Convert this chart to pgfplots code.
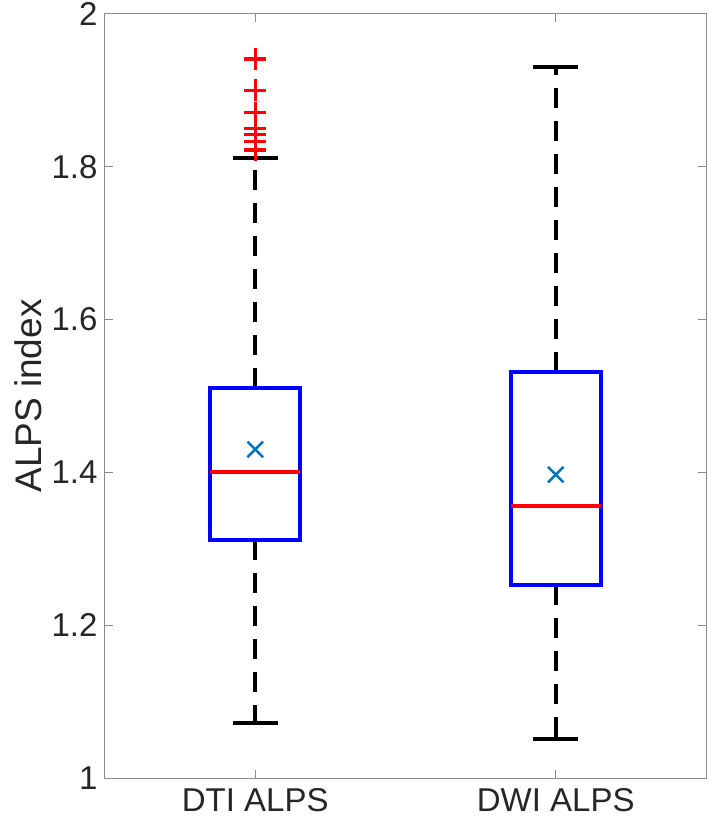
\documentclass[border=0pt]{standalone}
\usepackage{pgfplots}
\pgfplotsset{compat=1.18}
\usepgfplotslibrary{statistics}
\usepackage{fontspec}
\setmainfont{Liberation Sans}
\definecolor{axgray}{RGB}{38,38,38}
\definecolor{mlblue}{RGB}{0,114,189}
\begin{document}
\begin{tikzpicture}
\useasboundingbox (-105pt,-48pt) rectangle (602pt,778pt);
\begin{axis}[
  at={(0pt,0pt)}, anchor=south west,
  scale only axis, width=601pt, height=764pt,
  xmin=0.5, xmax=2.5, ymin=1, ymax=2,
  xtick={1,2}, xticklabels={DTI ALPS, DWI ALPS},
  ytick={1,1.2,1.4,1.6,1.8,2},
  yticklabels={1,1.2,1.4,1.6,1.8,2},
  tick align=inside, major tick length=8pt,
  axis line style={draw=black!45, line width=1pt},
  every tick/.style={draw=black!45, line width=1pt},
  tick label style={font=\fontsize{33}{38}\selectfont, text=axgray},
  ylabel={ALPS index},
  ylabel style={font=\fontsize{37}{42}\selectfont, text=axgray, at={(axis description cs:-0.128,0.5)}, anchor=center},
  yticklabel style={xshift=-4pt},
  xticklabel style={yshift=-7pt},
  boxplot/draw direction=y,
  boxplot/every box/.style={draw=blue, line width=4pt},
  boxplot/every median/.style={draw=red, line width=4pt},
  boxplot/draw/lower whisker/.code={%
    \draw[black, line width=4pt, dash pattern=on 20pt off 13pt]
      (boxplot box cs:\pgfplotsboxplotvalue{lower quartile},0.5) --
      (boxplot box cs:\pgfplotsboxplotvalue{lower whisker},0.5);
    \draw[black, line width=4pt]
      (boxplot whisker cs:\pgfplotsboxplotvalue{lower whisker},0) --
      (boxplot whisker cs:\pgfplotsboxplotvalue{lower whisker},1);
  },
  boxplot/draw/upper whisker/.code={%
    \draw[black, line width=4pt, dash pattern=on 20pt off 13pt]
      (boxplot box cs:\pgfplotsboxplotvalue{upper quartile},0.5) --
      (boxplot box cs:\pgfplotsboxplotvalue{upper whisker},0.5);
    \draw[black, line width=4pt]
      (boxplot whisker cs:\pgfplotsboxplotvalue{upper whisker},0) --
      (boxplot whisker cs:\pgfplotsboxplotvalue{upper whisker},1);
  },
]
\addplot[draw=blue, boxplot prepared={draw position=1,
  lower whisker=1.072, lower quartile=1.311, median=1.400,
  upper quartile=1.511, upper whisker=1.811,
  box extend=0.3, whisker extend=0.15}] coordinates {};
\addplot[draw=blue, boxplot prepared={draw position=2,
  lower whisker=1.051, lower quartile=1.252, median=1.356,
  upper quartile=1.531, upper whisker=1.931,
  box extend=0.3, whisker extend=0.15}] coordinates {};
% outliers
\addplot[only marks, mark=+, mark size=11pt, draw=red, line width=3.5pt]
  coordinates {(1,1.941) (1,1.900) (1,1.871) (1,1.850) (1,1.842) (1,1.833) (1,1.822)};
% means
\addplot[only marks, mark=x, mark size=11pt, draw=mlblue, line width=2.5pt]
  coordinates {(1,1.430) (2,1.397)};
\end{axis}
\end{tikzpicture}
\end{document}
